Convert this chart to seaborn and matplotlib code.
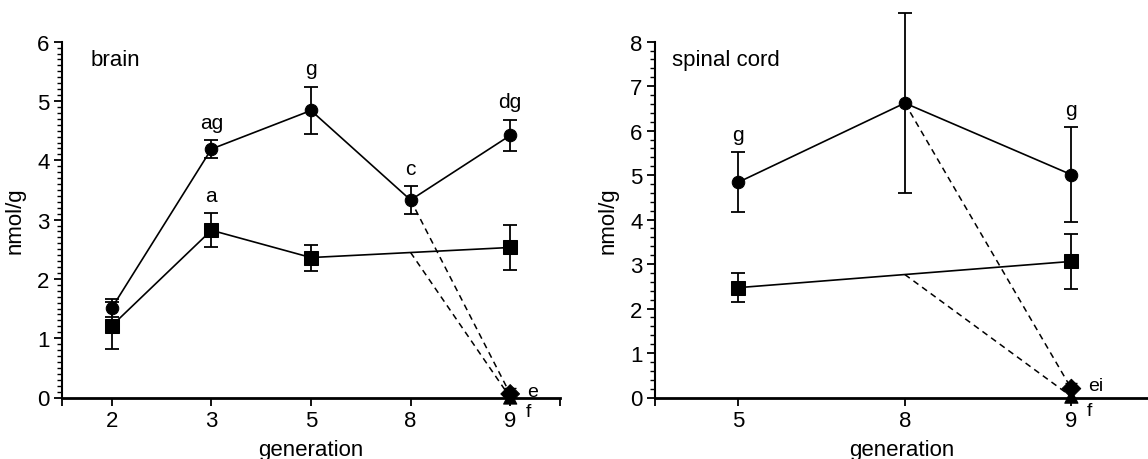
import numpy as np
import pandas as pd
import matplotlib
matplotlib.use("Agg")
import matplotlib.pyplot as plt
from matplotlib.ticker import MultipleLocator, FixedLocator
import seaborn as sns

# brain panel
brain_gen = ["2", "3", "5", "8", "9"]
brain_circle = [1.51, 4.19, 4.84, 3.33, 4.42]
brain_circle_err = [0.15, 0.15, 0.40, 0.23, 0.26]
brain_circle_lab = ["", "ag", "g", "c", "dg"]
brain_square_gen = ["2", "3", "5", "9"]
brain_square = [1.21, 2.82, 2.36, 2.53]
brain_square_err = [0.40, 0.29, 0.22, 0.38]
brain_square_lab = ["", "a", "", ""]
brain_diamond = 0.06
brain_diamond_err = 0.10
brain_triangle = 0.0
brain_end_labels = ["e", "f"]

# spinal cord panel
spinal_gen = ["5", "8", "9"]
spinal_circle = [4.84, 6.62, 5.01]
spinal_circle_err = [0.67, 2.02, 1.07]
spinal_circle_lab = ["g", "", "g"]
spinal_square_gen = ["5", "9"]
spinal_square = [2.47, 3.06]
spinal_square_err = [0.32, 0.61]
spinal_square_lab = ["", ""]
spinal_diamond = 0.20
spinal_diamond_err = 0.12
spinal_triangle = 0.02
spinal_end_labels = ["ei", "f"]

sns.set_style("ticks")
plt.rcParams['font.family'] = ['Liberation Sans', 'DejaVu Sans']
for k in ["text.color", "axes.labelcolor", "xtick.color", "ytick.color", "axes.edgecolor"]:
    plt.rcParams[k] = "black"

fig = plt.figure(figsize=(11.48, 4.6), dpi=100)
ax1 = fig.add_axes([62 / 1148, 1 - 398.5 / 460, (560 - 62) / 1148, (398.5 - 42.7) / 460])
ax2 = fig.add_axes([655 / 1148, 1 - 398.5 / 460, (1148 - 655) / 1148, (398.5 - 42.7) / 460])


def draw_panel(ax, gens, circ, circ_err, circ_lab, sq_gen, sq, sq_err, sq_lab,
               dia, dia_err, tri, end_labels, title, title_dx, ymax, yminor, xmax):
    pos = {g: i for i, g in enumerate(gens)}
    dc = pd.DataFrame({"x": [pos[g] for g in gens], "y": circ, "err": circ_err})
    ds = pd.DataFrame({"x": [pos[g] for g in sq_gen], "y": sq, "err": sq_err})

    for d, mk, ms in [(dc, "o", 9.0), (ds, "s", 10.0)]:
        ax.errorbar(d["x"], d["y"], yerr=d["err"], fmt="none", ecolor="black",
                    elinewidth=1.3, capsize=5, capthick=1.3, clip_on=False, zorder=2)
        sns.lineplot(data=d, x="x", y="y", ax=ax, color="black", linewidth=1.2,
                     marker=mk, markersize=ms, markeredgecolor="black",
                     markerfacecolor="black", zorder=3, clip_on=False)

    # treated group at the last generation, linked back from generation 8
    x8 = pos["8"]
    x9 = pos["9"]
    sq_at8 = np.interp(x8, ds["x"], ds["y"])
    ax.plot([x8, x9], [circ[gens.index("8")], dia], ls=(0, (4, 3)), color="black", lw=1.1)
    ax.plot([x8, x9], [sq_at8, tri], ls=(0, (4, 3)), color="black", lw=1.1)
    ax.errorbar([x9], [dia], yerr=[[0], [dia_err]], fmt="none", ecolor="black",
                elinewidth=1.2, capsize=4, zorder=4)
    dt = pd.DataFrame({"x": [x9, x9], "y": [tri, dia], "m": ["t", "d"]})
    sns.scatterplot(data=dt, x="x", y="y", style="m", markers={"t": "^", "d": "D"},
                    s=90, color="black", edgecolor="black", ax=ax, legend=False,
                    zorder=5, clip_on=False)
    ax.annotate(end_labels[0], (x9, dia), xytext=(12, 2), textcoords="offset points",
                fontsize=14, va="center", ha="left")
    ax.annotate(end_labels[1], (x9, tri), xytext=(11, -10), textcoords="offset points",
                fontsize=14, va="center", ha="left")

    for d, labs in [(dc, circ_lab), (ds, sq_lab)]:
        for x, y, e, t in zip(d["x"], d["y"], d["err"], labs):
            if t:
                ax.annotate(t, (x, y + e), xytext=(0, 9), textcoords="offset points",
                            ha="center", va="baseline", fontsize=15)

    ax.annotate(title, (0, 1), xycoords="axes fraction", xytext=(title_dx, -7),
                textcoords="offset pixels", fontsize=16, va="top", ha="left")

    ax.set_xlim(-0.5, xmax)
    ax.set_ylim(0, ymax)
    ax.set_xticks(range(len(gens)))
    ax.set_xticklabels(gens)
    ax.xaxis.set_minor_locator(FixedLocator([-0.5, len(gens) - 0.5]))
    ax.yaxis.set_major_locator(MultipleLocator(1))
    ax.yaxis.set_minor_locator(MultipleLocator(yminor))
    ax.tick_params(axis="both", which="major", labelsize=16, length=6, width=1.3,
                   direction="out", pad=3)
    ax.tick_params(axis="y", which="minor", length=3.5, width=1.0, direction="out")
    ax.tick_params(axis="x", which="minor", length=6, width=1.3, direction="out")
    ax.set_xlabel("generation", fontsize=16, labelpad=6)
    ax.set_ylabel("nmol/g", fontsize=16, labelpad=8)
    sns.despine(ax=ax)
    ax.spines["left"].set_linewidth(1.5)
    ax.spines["bottom"].set_linewidth(2.0)


draw_panel(ax1, brain_gen, brain_circle, brain_circle_err, brain_circle_lab,
           brain_square_gen, brain_square, brain_square_err, brain_square_lab,
           brain_diamond, brain_diamond_err, brain_triangle, brain_end_labels,
           "brain", 29, 6, 0.1, 4.5)
draw_panel(ax2, spinal_gen, spinal_circle, spinal_circle_err, spinal_circle_lab,
           spinal_square_gen, spinal_square, spinal_square_err, spinal_square_lab,
           spinal_diamond, spinal_diamond_err, spinal_triangle, spinal_end_labels,
           "spinal cord", 17, 8, 0.2, 2.46)

fig.savefig("out.png", dpi=100)
